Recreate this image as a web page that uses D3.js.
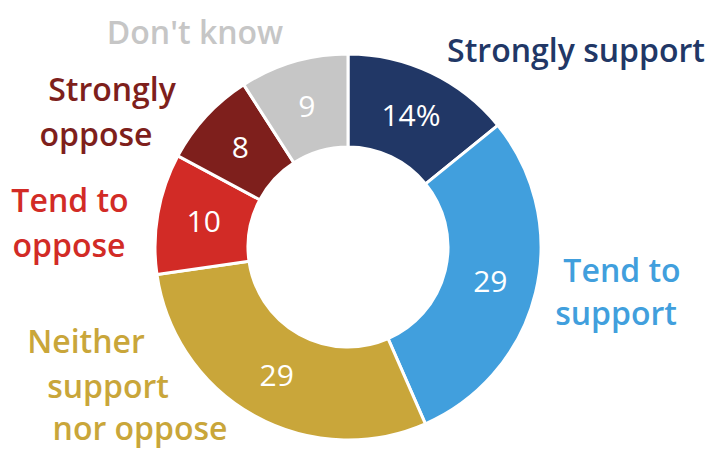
<!DOCTYPE html>
<html>
<head>
<meta charset="utf-8">
<script src="https://cdn.jsdelivr.net/npm/d3@7"></script>
<style>
  body { margin: 0; background: #fff; }
  svg { display: block; }
  text { font-family: "Open Sans", "Noto Sans", sans-serif; }
</style>
</head>
<body>
<script>
var categories = ["Strongly support", "Tend to support", "Neither support nor oppose", "Tend to oppose", "Strongly oppose", "Don't know"];
var values = [14, 29, 29, 10, 8, 9];
var valueLabels = ["14%", "29", "29", "10", "8", "9"];
var labelLines = [
  ["Strongly support"],
  ["Tend to", "support"],
  ["Neither", "support", "nor oppose"],
  ["Tend to", "oppose"],
  ["Strongly", "oppose"],
  ["Don't know"]
];
var colors = ["#213766", "#419fdd", "#c9a63a", "#d22b26", "#7e1f1c", "#c6c6c6"];

var svgWidth = 712;
var svgHeight = 450;
var cx = 348, cy = 247;
var outerR = 193, innerR = 100;

// where each category label sits (centre x, baseline y of each line)
var labelPos = [
  [[576, 62]],
  [[622, 282], [616, 325]],
  [[86, 353], [108, 398], [140, 440]],
  [[70, 212], [69, 257]],
  [[112, 101], [96, 146]],
  [[195, 44]]
];

var svg = d3.select("body")
  .append("svg")
  .attr("width", svgWidth)
  .attr("height", svgHeight);

var pie = d3.pie().sort(null).value(function(d) { return d; });
var arc = d3.arc().innerRadius(innerR).outerRadius(outerR);

var arcs = pie(values);

var chartGroup = svg.append("g")
  .attr("transform", `translate(${cx}, ${cy})`);

chartGroup.selectAll("path")
  .data(arcs)
  .enter()
  .append("path")
  .attr("d", arc)
  .attr("fill", function(d, i) { return colors[i]; })
  .attr("stroke", "#fff")
  .attr("stroke-width", 3);

chartGroup.selectAll("text.value")
  .data(arcs)
  .enter()
  .append("text")
  .attr("class", "value")
  .attr("transform", function(d) { return `translate(${arc.centroid(d)})`; })
  .attr("text-anchor", "middle")
  .attr("dy", "0.36em")
  .attr("fill", "#fff")
  .style("font-size", "30px")
  .text(function(d, i) { return valueLabels[i]; });

categories.forEach(function(c, i) {
  labelLines[i].forEach(function(line, j) {
    svg.append("text")
      .attr("x", labelPos[i][j][0])
      .attr("y", labelPos[i][j][1])
      .attr("text-anchor", "middle")
      .attr("fill", colors[i])
      .style("font-size", "32px")
      .style("font-weight", 600)
      .text(line);
  });
});
</script>
</body>
</html>
